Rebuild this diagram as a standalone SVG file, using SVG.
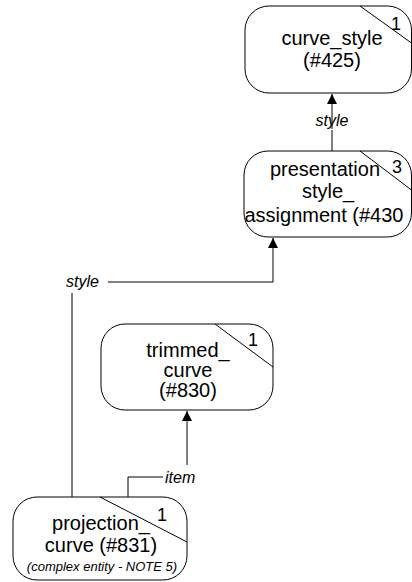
<svg xmlns="http://www.w3.org/2000/svg" width="412" height="582" viewBox="0 0 412 582">
<style>
.box{fill:#fff;stroke:#000;stroke-width:1}
.ln{fill:none;stroke:#000;stroke-width:1}
.t{font-family:"Liberation Sans",Arial,sans-serif;font-size:20px;fill:#000;text-anchor:middle}
.n{font-family:"Liberation Sans",Arial,sans-serif;font-size:18px;fill:#000;text-anchor:middle}
.lab{font-family:"Liberation Sans",Arial,sans-serif;font-size:16px;font-style:italic;fill:#000}
.sm{font-family:"Liberation Sans",Arial,sans-serif;font-size:13px;font-style:italic;fill:#000;text-anchor:middle}
</style>
<defs>
<marker id="ah" viewBox="0 0 10 10" refX="10" refY="5" markerWidth="10" markerHeight="10" markerUnits="userSpaceOnUse" orient="auto">
<path d="M0,0 L10,5 L0,10 Z" fill="#000"/>
</marker>
</defs>
<g id="connectors">
<path class="ln" d="M332,129 V94" marker-end="url(#ah)"/>
<path class="ln" d="M332,151 V130"/>
<text class="lab" x="332" y="126" style="text-anchor:middle">style</text>
<path class="ln" d="M72,497 V293"/>
<path class="ln" d="M108,282 H273 V238" marker-end="url(#ah)"/>
<text class="lab" x="66" y="287">style</text>
<path class="ln" d="M128,497 V477 H163"/>
<path class="ln" d="M187,465 V411" marker-end="url(#ah)"/>
<text class="lab" x="165" y="483">item</text>
</g>
<g id="curve_style">
<rect class="box" x="245" y="6" width="166.5" height="87" rx="24" ry="24"/>
<path class="ln" d="M360,6 L411.5,43"/>
<text class="n" x="396" y="30">1</text>
<text class="t" x="332" y="45">curve_style</text>
<text class="t" x="332" y="67">(#425)</text>
</g>
<g id="presentation_style_assignment">
<rect class="box" x="244" y="151" width="167.5" height="86" rx="24" ry="24"/>
<path class="ln" d="M360,151 L411.5,190"/>
<text class="n" x="397" y="173">3</text>
<text class="t" x="325" y="176">presentation</text>
<text class="t" x="328" y="198">style_</text>
<text class="t" x="244.5" y="222" style="text-anchor:start">assignment (#430</text>
</g>
<g id="trimmed_curve">
<rect class="box" x="101" y="324" width="172" height="86" rx="24" ry="24"/>
<path class="ln" d="M215,324 L273,367"/>
<text class="n" x="253" y="346">1</text>
<text class="t" x="188" y="357">trimmed_</text>
<text class="t" x="188" y="377">curve</text>
<text class="t" x="188" y="397">(#830)</text>
</g>
<g id="projection_curve">
<rect class="box" x="13" y="497" width="174" height="83" rx="24" ry="24"/>
<path class="ln" d="M100,497 L187,542"/>
<text class="n" x="162" y="521">1</text>
<text class="t" x="101" y="530">projection_</text>
<text class="t" x="101" y="552">curve (#831)</text>
<text class="sm" x="102" y="571">(complex entity - NOTE 5)</text>
</g>
</svg>
